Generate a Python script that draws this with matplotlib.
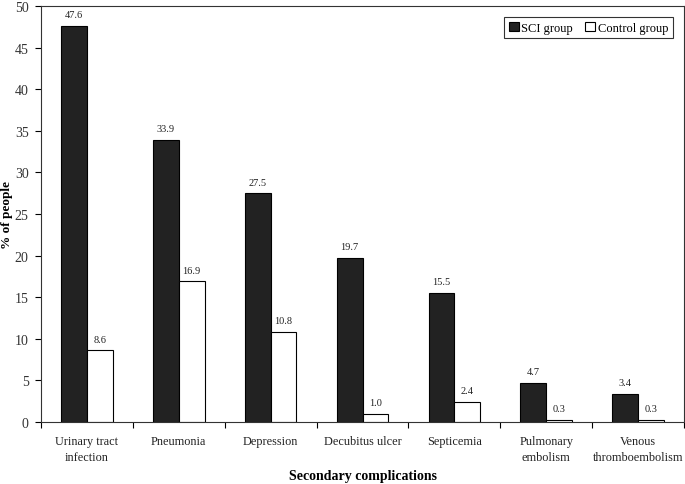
import matplotlib
matplotlib.use("Agg")
import matplotlib.pyplot as plt
import numpy as np

categories = ["Urinary tract\ninfection", "Pneumonia", "Depression", "Decubitus ulcer",
              "Septicemia", "Pulmonary\nembolism", "Venous\nthromboembolism"]
sci_values = [47.6, 33.9, 27.5, 19.7, 15.5, 4.7, 3.4]
control_values = [8.6, 16.9, 10.8, 1.0, 2.4, 0.3, 0.3]
y_ticks = [0, 5, 10, 15, 20, 25, 30, 35, 40, 45, 50]

plt.rcParams['font.family'] = ['Liberation Serif', 'DejaVu Serif']

fig = plt.figure(figsize=(6.85, 4.85), dpi=100)
ax = fig.add_axes([0.0599, 0.1278, 0.9386, 0.8578])

n = len(categories)
x = np.arange(n)
w = 0.28
ax.bar(x - w/2, sci_values, w, color='#222222', edgecolor='black', linewidth=0.8, label='SCI group')
ax.bar(x + w/2, control_values, w, color='white', edgecolor='black', linewidth=0.8, label='Control group')

for xi, v in zip(x, sci_values):
    ax.text(xi - w/2, v + 0.8, f"{v:.1f}", ha='center', va='bottom', fontsize=7.5, color='#222222')
for xi, v in zip(x, control_values):
    ax.text(xi + w/2, v + 0.8, f"{v:.1f}", ha='center', va='bottom', fontsize=7.5, color='#222222')

ax.set_xlim(-0.5, n - 0.5)
ax.set_ylim(0, 50)
ax.set_yticks(y_ticks)
ax.tick_params(axis='y', labelsize=10, length=4, direction='out', width=0.8, pad=5,
               labelcolor='#333333')

ax.set_xticks(np.arange(-0.5, n, 1.0))
ax.set_xticklabels([])
ax.tick_params(axis='x', which='major', length=4, direction='out', width=0.8)
ax.set_xticks(x, minor=True)
ax.set_xticklabels(categories, minor=True, fontsize=8.8, linespacing=1.45, color='#222222')
ax.tick_params(axis='x', which='minor', length=0, pad=9)

for s in ax.spines.values():
    s.set_linewidth(0.8)
    s.set_color('#333333')

ax.set_ylabel('% of people', fontsize=9.5, fontweight='bold')
ax.yaxis.set_label_coords(-0.0435, 0.5)
ax.set_xlabel('Secondary complications', fontsize=10, fontweight='bold')
ax.xaxis.set_label_coords(0.5, -0.112)

leg = ax.legend(loc='upper right', ncol=2, fontsize=9, frameon=True, fancybox=False,
                edgecolor='black', handlelength=0.8, handleheight=0.8, handletextpad=0.2,
                columnspacing=1.0, borderaxespad=0.9, borderpad=0.35)
leg.get_frame().set_linewidth(0.8)

fig.savefig('out.png', dpi=100)
